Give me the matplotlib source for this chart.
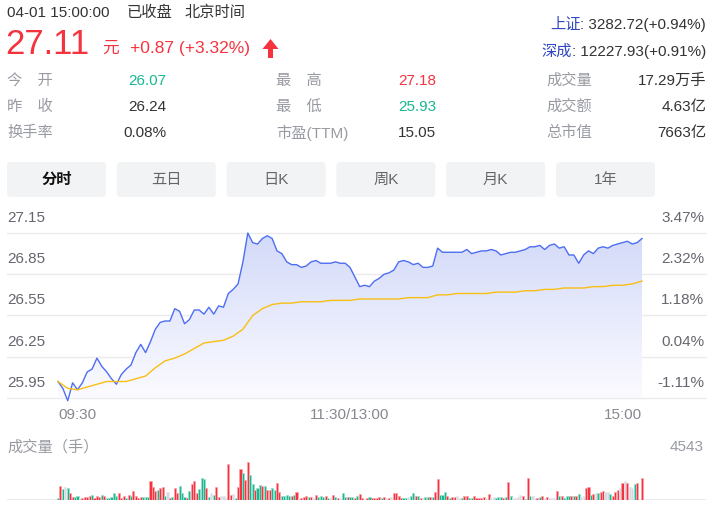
import numpy as np
import matplotlib
matplotlib.use("Agg")
import matplotlib.pyplot as plt
from matplotlib import transforms
from matplotlib.patches import FancyBboxPatch, Polygon
from matplotlib.colors import LinearSegmentedColormap

plt.rcParams['font.family'] = ['Liberation Sans', 'Noto Sans CJK SC', 'DejaVu Sans']

W, H = 721, 513

# ---------------- data ----------------
prev_close = 26.24

# last price, every 2 minutes from 09:30 to 15:00 (lunch break removed)
price = [26.07, 26.02, 25.93, 26.06, 26.01, 26.06, 26.14, 26.16, 26.24, 26.18, 26.14,
         26.09, 26.05, 26.12, 26.16, 26.19, 26.28, 26.34, 26.28, 26.36, 26.45,
         26.50, 26.51, 26.51, 26.60, 26.58, 26.49, 26.52, 26.59, 26.59, 26.56,
         26.61, 26.56, 26.62, 26.61, 26.71, 26.74, 26.78, 26.94, 27.15, 27.08,
         27.07, 27.11, 27.13, 27.11, 27.02, 27.00, 26.94, 26.92, 26.92, 26.90,
         26.91, 26.94, 26.95, 26.93, 26.93, 26.93, 26.94, 26.93, 26.93, 26.90,
         26.83, 26.76, 26.77, 26.76, 26.80, 26.82, 26.85, 26.86, 26.88, 26.94,
         26.95, 26.94, 26.92, 26.93, 26.90, 26.90, 26.91, 27.04, 27.01, 27.01,
         27.01, 27.01, 27.01, 27.03, 27.00, 27.01, 27.02, 27.02, 27.03, 27.02,
         26.99, 27.00, 27.01, 27.01, 27.02, 27.03, 27.05, 27.05, 27.06, 27.03,
         27.06, 27.07, 27.04, 27.05, 26.99, 26.99, 26.93, 26.99, 27.02, 27.00,
         27.04, 27.05, 27.04, 27.06, 27.07, 27.08, 27.09, 27.07, 27.08, 27.11]

# average price, every 4 minutes
avg_price = [26.07, 26.02, 26.01, 26.03, 26.05, 26.07, 26.07, 26.07, 26.09, 26.11,
             26.17, 26.22, 26.24, 26.27, 26.31, 26.35, 26.36, 26.37, 26.40, 26.45,
             26.55, 26.60, 26.63, 26.64, 26.64, 26.65, 26.65, 26.65, 26.66, 26.66,
             26.66, 26.67, 26.67, 26.67, 26.67, 26.67, 26.68, 26.68, 26.68, 26.70,
             26.70, 26.71, 26.71, 26.71, 26.71, 26.72, 26.72, 26.72, 26.73, 26.73,
             26.74, 26.74, 26.75, 26.75, 26.75, 26.76, 26.76, 26.77, 26.77, 26.78,
             26.80]

# volume per minute (lots) and direction (r up, g down, n flat)
volume = [200, 1610, 1210, 1450, 1330, 720, 320, 320, 400, 120,
          200, 280, 280, 400, 520, 120, 400, 280, 520, 400,
          200, 200, 320, 720, 400, 720, 200, 400, 200, 520,
          400, 1000, 400, 120, 280, 280, 280, 280, 2210, 1490,
          1050, 1130, 1330, 1490, 400, 840, 120, 280, 1330, 720,
          1610, 720, 320, 120, 1000, 1810, 2210, 720, 1210, 2530,
          2410, 1330, 320, 720, 520, 1490, 280, 400, 400, 200,
          4220, 520, 680, 200, 1490, 3620, 3140, 2330, 4543, 2930,
          1890, 1170, 1330, 1730, 1610, 1610, 1170, 1170, 1330, 1090,
          1930, 880, 400, 400, 520, 400, 400, 520, 880, 120,
          120, 320, 400, 280, 280, 120, 520, 280, 400, 280,
          400, 120, 120, 520, 280, 120, 120, 720, 280, 280,
          280,
          280, 200, 400, 600, 120, 40, 120, 280, 120, 120,
          120, 280, 120, 280, 120, 120, 280, 720, 720, 400,
          120, 120, 120, 280, 400, 720, 400, 400, 120, 120,
          280, 280, 280, 280, 880, 2410, 520, 520, 880, 400,
          120, 280, 280, 400, 200, 120, 400, 400, 200, 120,
          400, 120, 120, 120, 280, 120, 600, 120, 280, 120,
          280, 280, 120, 280, 2130, 400, 120, 200, 280, 520,
          400, 40, 2530, 400, 400, 120, 120, 280, 400, 120,
          280, 120, 120, 120, 1000, 400, 400, 120, 400, 400,
          400, 400, 400, 600, 280, 400, 1330, 1490, 520, 600,
          720, 720, 920, 1000, 920, 840, 600, 400, 840, 1170,
          1330, 1930, 2210, 1930, 1450, 1330, 1810, 1930, 40, 2530]
vol_dir = list("grgngrrggn" "rrrrgrrrgr" "gggggrrrgr" "grrrrgggrr"
               "rgrrgnrgrr" "gggrgrrrgg" "grgngrrnnn" "rrngrrgrrg"
               "grggrgrrgg" "rrggggrgrn" "rrrgrnrggg" "rgnrgrnggr" "g"
               "grgrrnrgrr" "rrgrnrnrrr" "rggnggrgrn" "ggrgrrgggr"
               "grrnngrrgg" "rrrrrnrnng" "ggrgrgnnnn" "rgrgnnrgrn"
               "rnnnrgrggg" "rgrgnnrrgr" "ngrrnngrrr" "nrnrnngrnr")

yticks = [27.15, 26.85, 26.55, 26.25, 25.95]
time_labels = ["09:30", "11:30/13:00", "15:00"]
vol_max = 4543

tabs = ["分时", "五日", "日K", "周K", "月K", "1年"]

# ---------------- figure ----------------
fig = plt.figure(figsize=(W / 100, H / 100), dpi=100, facecolor='white')

bg = fig.add_axes([0, 0, 1, 1])
bg.set_xlim(0, W)
bg.set_ylim(H, 0)
bg.axis('off')

red = '#f5333f'
green = '#17b890'
dark = '#333333'
grey = '#999ba3'
fs = 11

# header
bg.text(7, 13, "04-01 15:00:00", fontsize=fs, color=dark, va='center')
bg.text(127, 13, "已收盘", fontsize=fs, color=dark, va='center')
bg.text(185, 13, "北京时间", fontsize=fs, color=dark, va='center')

bg.text(5, 44, "27.11", fontsize=25, color=red, va='center')
bg.text(102, 48, "元", fontsize=12, color=red, va='center')
bg.text(130, 48, "+0.87 (+3.32%)", fontsize=12.5, color=red, va='center')
bg.add_patch(Polygon([(270.5, 39), (262.5, 49), (268, 49), (268, 58),
                      (273, 58), (273, 49), (278.5, 49)],
                     closed=True, facecolor=red, edgecolor='none'))

t1 = bg.text(706, 25, ": 3282.72(+0.94%)", fontsize=fs, color=dark,
             ha='right', va='center')
bg.annotate("上证", xy=(0, 0.5), xycoords=t1, fontsize=fs, color='#2f47c2',
            ha='right', va='center')
t2 = bg.text(706, 52, ": 12227.93(+0.91%)", fontsize=fs, color=dark,
             ha='right', va='center')
bg.annotate("深成", xy=(0, 0.5), xycoords=t2, fontsize=fs, color='#2f47c2',
            ha='right', va='center')

rows_y = [81, 107, 133]
col1 = [("今\u3000开", "26.07", green), ("昨\u3000收", "26.24", dark),
        ("换手率", "0.08%", dark)]
col2 = [("最\u3000高", "27.18", red), ("最\u3000低", "25.93", green),
        ("市盈(TTM)", "15.05", dark)]
col3 = [("成交量", "17.29万手", dark), ("成交额", "4.63亿", dark),
        ("总市值", "7663亿", dark)]
for y, (a, b, c) in zip(rows_y, col1):
    bg.text(7, y, a, fontsize=fs, color=grey, va='center')
    bg.text(166, y, b, fontsize=fs, color=c, va='center', ha='right')
for y, (a, b, c) in zip(rows_y, col2):
    bg.text(276, y, a, fontsize=fs, color=grey, va='center')
    bg.text(436, y, b, fontsize=fs, color=c, va='center', ha='right')
for y, (a, b, c) in zip(rows_y, col3):
    bg.text(546, y, a, fontsize=fs, color=grey, va='center')
    bg.text(706, y, b, fontsize=fs, color=c, va='center', ha='right')

# tabs
for i, name in enumerate(tabs):
    x0 = 7 + i * 109.8
    bg.add_patch(FancyBboxPatch((x0 + 2, 164), 95, 31,
                                boxstyle="round,pad=2,rounding_size=4",
                                facecolor='#f2f3f5', edgecolor='none'))
    bg.text(x0 + 49.5, 180, name, fontsize=fs, ha='center', va='center',
            color='#111111' if i == 0 else '#666666',
            fontweight='bold' if i == 0 else 'normal')

# ---------------- price chart ----------------
px_per_min = (642 - 58) / 240
xlim = (-(58 - 7) / px_per_min, 240 + (706 - 642) / px_per_min)

ax = fig.add_axes([7 / W, 1 - 398 / H, 699 / W, 165 / H])
ax.set_facecolor('none')
for s in ax.spines.values():
    s.set_visible(False)
ax.set_xticks([])
ax.set_yticks([])

x_p = np.linspace(0, 240, len(price))
x_a = np.linspace(0, 240, len(avg_price))

fill = ax.fill_between(x_p, price, yticks[-1], facecolor='none', edgecolor='none')
cmap = LinearSegmentedColormap.from_list('fade', ['#fbfbff', '#d3daf9'])
grad = np.linspace(1, 0, 256).reshape(-1, 1)
img = ax.imshow(grad, extent=[0, 240, yticks[-1], yticks[0]], aspect='auto',
                cmap=cmap, origin='upper', zorder=1, interpolation='bilinear')
img.set_clip_path(fill.get_paths()[0], transform=ax.transData)

for v in yticks:
    ax.axhline(v, color='#ebebee', lw=1.0, zorder=0.5, clip_on=False)

ax.plot(x_p, price, color='#4e6ef2', lw=1.0, zorder=3, clip_on=False)
ax.plot(x_a, avg_price, color='#f9be14', lw=1.0, zorder=3, clip_on=False)
ax.set_xlim(*xlim)
ax.set_ylim(yticks[-1], yticks[0])

lab_tr = transforms.offset_copy(
    transforms.blended_transform_factory(ax.transAxes, ax.transData),
    fig=fig, x=0, y=15, units='dots')
for v in yticks:
    pct = (v - prev_close) / prev_close * 100
    ax.text(0, v, f"{v:.2f}", transform=lab_tr, fontsize=fs, color='#666670',
            ha='left', va='center')
    ax.text((704 - 7) / 699, v, f"{pct:.2f}%", transform=lab_tr, fontsize=fs,
            color='#666670', ha='right', va='center')

x_tr = transforms.offset_copy(
    transforms.blended_transform_factory(ax.transData, ax.transAxes),
    fig=fig, x=0, y=-17, units='dots')
for xv, lab, ha in zip([0, 120, 240], time_labels, ['left', 'center', 'right']):
    ax.text(xv, 0, lab, transform=x_tr, fontsize=fs, color='#888890',
            ha=ha, va='center')

# ---------------- volume ----------------
vax = fig.add_axes([7 / W, 1 - 499.5 / H, 699 / W, 38 / H])
vax.set_facecolor('none')
for s in vax.spines.values():
    s.set_visible(False)
vax.set_xticks([])
vax.set_yticks([])

x_v = np.linspace(0, 240, len(volume))
step = x_v[1] - x_v[0]
face = {'r': '#f5333f', 'g': '#17b890', 'n': '#d8d9e0'}
edge = {'r': '#f9a6ab', 'g': '#9fe0cd', 'n': '#e8e8ee'}
vax.bar(x_v, volume, width=step * 0.85,
        color=[face[d] for d in vol_dir],
        edgecolor=[edge[d] for d in vol_dir], linewidth=0.5, zorder=2)
vax.axhline(0, color='#e6e6e9', lw=1.2, zorder=1)
vax.set_xlim(*xlim)
vax.set_ylim(0, vol_max)

bg.text(7, 447, "成交量（手）", fontsize=fs, color=grey, va='center')
bg.text(704, 447, str(vol_max), fontsize=fs, color=grey, va='center', ha='right')

fig.savefig("out.png", dpi=100)
